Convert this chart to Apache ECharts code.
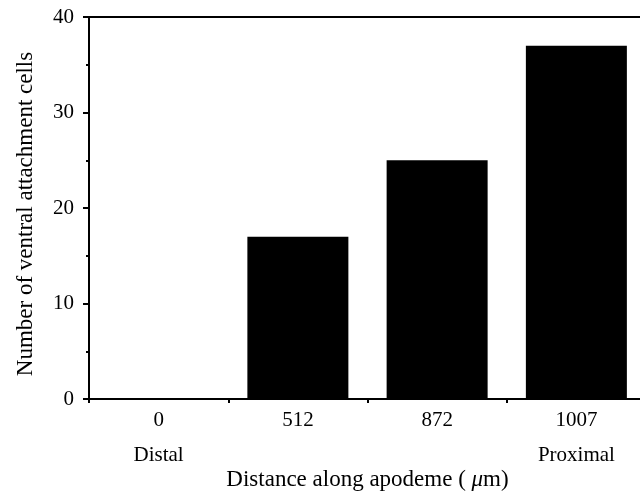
<!DOCTYPE html>
<html>
<head>
<meta charset="utf-8">
<script src="https://cdn.jsdelivr.net/npm/echarts@6/dist/echarts.min.js"></script>
<style>
  html, body { margin: 0; padding: 0; background: #fff; }
  #chart { width: 640px; height: 494px; }
</style>
</head>
<body>
<div id="chart"></div>
<script>
  // distance along apodeme (um)
  var distances = ['0', '512', '872', '1007'];
  var positionNames = ['Distal', '', '', 'Proximal'];
  // number of ventral attachment cells
  var cellCounts = [0, 17, 25, 37];
  var yTicks = { min: 0, max: 40, interval: 10 };

  var font = '"Liberation Serif", "Times New Roman", serif';
  var fs = 21;      // tick labels
  var nameFs = 23;  // axis titles
  var chart = echarts.init(document.getElementById('chart'));

  var option = {
    animation: false,
    textStyle: { fontFamily: font, color: '#000' },
    grid: { left: 89, right: -6, top: 17, bottom: 95, outerBoundsMode: 'none', containLabel: false },
    xAxis: [{
      type: 'category',
      data: distances,
      position: 'bottom',
      axisLine: { lineStyle: { color: '#000', width: 2 } },
      axisTick: { show: true, length: 4, lineStyle: { color: '#000', width: 2 } },
      axisLabel: {
        color: '#000',
        fontFamily: font,
        fontSize: fs,
        margin: 4,
        lineHeight: 35,
        formatter: function (v, i) {
          return positionNames[i] ? v + '\n' + positionNames[i] : v;
        }
      },
      name: 'Distance along apodeme ( {i|μ}m)',
      nameLocation: 'middle',
      nameGap: 69,
      nameMoveOverlap: false,
      nameTextStyle: {
        color: '#000',
        fontFamily: font,
        fontSize: nameFs,
        rich: { i: { fontStyle: 'italic', fontFamily: font, fontSize: nameFs, color: '#000' } }
      }
    }, {
      type: 'category',
      data: distances,
      position: 'top',
      axisLine: { lineStyle: { color: '#000', width: 2 } },
      axisTick: { show: false },
      axisLabel: { show: false }
    }],
    yAxis: {
      type: 'value',
      min: yTicks.min,
      max: yTicks.max,
      interval: yTicks.interval,
      axisLine: { show: true, lineStyle: { color: '#000', width: 2 } },
      axisTick: { show: true, length: 6, lineStyle: { color: '#000', width: 2 } },
      minorTick: { show: true, splitNumber: 2, length: 3, lineStyle: { color: '#000', width: 2 } },
      splitLine: { show: false },
      axisLabel: { color: '#000', fontFamily: font, fontSize: fs, margin: 15 },
      name: 'Number of ventral attachment cells',
      nameLocation: 'middle',
      nameGap: 52,
      nameMoveOverlap: false,
      nameTextStyle: { color: '#000', fontFamily: font, fontSize: nameFs, padding: [0, 12, 0, 0] }
    },
    series: [{
      type: 'bar',
      data: cellCounts,
      barWidth: 101,
      itemStyle: { color: '#000' }
    }]
  };

  chart.setOption(option);
</script>
</body>
</html>
